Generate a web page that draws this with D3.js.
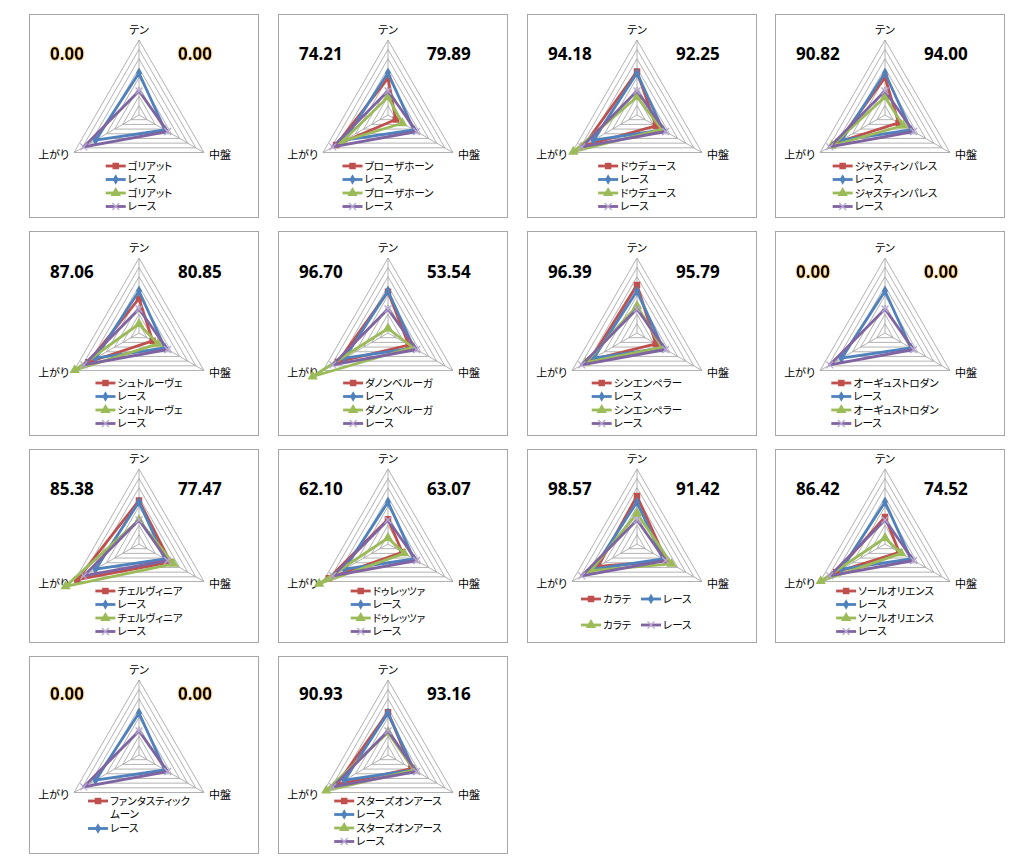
<!DOCTYPE html>
<html><head><meta charset="utf-8">
<script src="https://cdn.jsdelivr.net/npm/d3@7"></script>
<style>
body{margin:0;background:#fff;}
svg{display:block;}
.jp{font-family:"Noto Sans CJK JP","Noto Sans",sans-serif;font-feature-settings:"palt" 1;fill:#000;}
.num{font-family:"Open Sans","Liberation Sans",sans-serif;font-weight:700;font-size:17px;fill:#000;}
</style></head><body>
<svg id="c" width="1024" height="866"></svg>
<script>
// ---------------- data ----------------
const horses = ["ゴリアット","ブローザホーン","ドウデュース","ジャスティンパレス",
  "シュトルーヴェ","ダノンベルーガ","シンエンペラー","オーギュストロダン",
  "チェルヴィニア","ドゥレッツァ","カラテ","ソールオリエンス",
  "ファンタスティックムーン","スターズオンアース"];
const axesLabels = ["テン","中盤","上がり"];
const raceLabel = "レース";
// values as % of the outer ring, order: テン, 中盤, 上がり
const raceA = [56, 40, 67];   // blue レース
const raceB = [32, 44, 85];   // purple レース
const horseA = [ // red
  null,[49,12,80],[58,29,82],[50,21,72],
  [46,21,78],[55,32,77],[64,29,72],null,
  [58,48,95],[33,22,91],[64,45,60],[36,22,75],
  null,[57,36,79]];
const horseB = [ // green
  null,[24,22,70],[24,38,98],[24,28,82],
  [12,29,99],[6,38,116],[36,38,79],null,
  [32,53,113],[8,25,106],[41,53,71],[8,25,99],
  null,[30,40,95]];
const scoreLeft  = [0,74.21,94.18,90.82,87.06,96.70,96.39,0,85.38,62.10,98.57,86.42,0,90.93];
const scoreRight = [0,79.89,92.25,94.00,80.85,53.54,95.79,0,77.47,63.07,91.42,74.52,0,93.16];
const ringTicks = [12.5,25,37.5,50,62.5,75,87.5,100];
// legend style per panel
const legendMode = ["list","list","list","list","list","list","list","list","list","list","grid","list","wrap","list"];

// ---------------- layout ----------------
const colX=[29,278,527,775], rowY=[14,231,449,656], rowH=[203,204,193,197];
const apexRel=[26,27,20,24], legendRel=[152,152,142,145], numRel=[46,47,46,44];
const PW=229, R=75, CXR=110;

const svg = d3.select("#c");
const defs = svg.append("defs");
const f = defs.append("filter").attr("id","glow").attr("x","-20%").attr("y","-30%").attr("width","140%").attr("height","160%");
f.append("feGaussianBlur").attr("in","SourceAlpha").attr("stdDeviation",1.1).attr("result","b");
f.append("feFlood").attr("flood-color","#f0a000").attr("flood-opacity",0.9);
f.append("feComposite").attr("in2","b").attr("operator","in").attr("result","g");
const fm=f.append("feMerge"); fm.append("feMergeNode").attr("in","g"); fm.append("feMergeNode").attr("in","SourceGraphic");

const rScale = d3.scaleLinear().domain([0,100]).range([0,R]);
const ang = i => i*2*Math.PI/3;
const radial = d3.lineRadial().angle((d,i)=>ang(i)).radius(d=>rScale(d)).curve(d3.curveLinearClosed);
const symX = {draw(ctx,size){const r=Math.sqrt(size)/2;ctx.moveTo(-r,-r);ctx.lineTo(r,r);ctx.moveTo(-r,r);ctx.lineTo(r,-r);}};
const seriesStyle = [
  {color:"#C0504D", sym:d3.symbolSquare, size:42, fill:"#C0504D", stroke:"none"},
  {color:"#4F81BD", sym:d3.symbolDiamond, size:32, fill:"#4F81BD", stroke:"none"},
  {color:"#9BBB59", sym:d3.symbolTriangle, size:46, fill:"#9BBB59", stroke:"none"},
  {color:"#8064A2", sym:symX, size:48, fill:"none", stroke:"#b8a9d4"}
];
function marker(g,x,y,st){
  g.append("path").attr("transform",`translate(${x},${y})`)
   .attr("d",d3.symbol(st.sym,st.size)())
   .attr("fill",st.fill).attr("stroke",st.stroke).attr("stroke-width",1.3);
}

horses.forEach((name,i)=>{
  const col=i%4,row=Math.floor(i/4);
  const g=svg.append("g").attr("transform",`translate(${colX[col]},${rowY[row]})`);
  g.append("rect").attr("x",0.5).attr("y",0.5).attr("width",PW).attr("height",rowH[row])
    .attr("fill","#fff").attr("stroke","#a6a6a6");
  const cx=CXR, cy=apexRel[row]+R;
  const p=g.append("g").attr("transform",`translate(${cx},${cy})`);
  p.selectAll("path.ring").data(ringTicks).join("path").attr("class","ring")
    .attr("d",t=>radial([t,t,t])).attr("fill","none").attr("stroke","#a9a9a9").attr("stroke-width",0.9);
  p.selectAll("line.spoke").data([0,1,2]).join("line").attr("class","spoke")
    .attr("x1",0).attr("y1",0)
    .attr("x2",k=>d3.pointRadial(ang(k),R)[0]).attr("y2",k=>d3.pointRadial(ang(k),R)[1])
    .attr("stroke","#a9a9a9").attr("stroke-width",0.9);
  // axis labels
  const v0=d3.pointRadial(ang(0),R), v1=d3.pointRadial(ang(1),R), v2=d3.pointRadial(ang(2),R);
  p.append("text").attr("class","jp").attr("x",v0[0]).attr("y",v0[1]-6).attr("text-anchor","middle").attr("font-size",11).text(axesLabels[0]);
  p.append("text").attr("class","jp").attr("x",v1[0]+5).attr("y",v1[1]+6).attr("text-anchor","start").attr("font-size",11).text(axesLabels[1]);
  p.append("text").attr("class","jp").attr("x",v2[0]-5).attr("y",v2[1]+6).attr("text-anchor","end").attr("font-size",11).text(axesLabels[2]);
  // series
  const data=[horseA[i],raceA,horseB[i],raceB];
  data.forEach((vals,s)=>{
    if(!vals) return;
    const st=seriesStyle[s];
    p.append("path").attr("d",radial(vals)).attr("fill","none").attr("stroke",st.color)
      .attr("stroke-width",2.8).attr("stroke-linejoin","round");
    vals.forEach((v,k)=>{const q=d3.pointRadial(ang(k),rScale(v));marker(p,q[0],q[1],st);});
  });
  // scores
  const fmt=d3.format(".2f");
  const noData=!horseA[i];
  const tl=g.append("text").attr("class","num").attr("x",21).attr("y",numRel[row]).text(fmt(scoreLeft[i]));
  const tr=g.append("text").attr("class","num").attr("x",149).attr("y",numRel[row]).text(fmt(scoreRight[i]));
  if(noData){tl.attr("filter","url(#glow)");tr.attr("filter","url(#glow)");}
  // legend
  const labels=[name,raceLabel,name,raceLabel];
  const lg=g.append("g");
  const mode=legendMode[i];
  function entry(x,y,s,lines){
    const st=seriesStyle[s];
    lg.append("line").attr("x1",x).attr("x2",x+20).attr("y1",y).attr("y2",y).attr("stroke",st.color).attr("stroke-width",2.8);
    marker(lg,x+10,y,st);
    const t=lg.append("text").attr("class","jp").attr("font-size",10.5).attr("x",x+22).attr("y",y);
    lines.forEach((ln,j)=>t.append("tspan").attr("x",x+22).attr("dy",j?"13.5":"0.36em").text(ln));
    return t;
  }
  function measure(s){const t=lg.append("text").attr("class","jp").attr("font-size",10.5).text(s);const w=t.node().getComputedTextLength();t.remove();return w;}
  const ly=legendRel[row];
  if(mode==="list"){
    const w=22+d3.max(labels,measure);
    const x0=cx-w/2;
    labels.forEach((lb,s)=>entry(x0,ly+s*13.5,s,[lb]));
  } else if(mode==="grid"){
    const x1=cx-56, x2=cx+4;
    entry(x1,150,0,[labels[0]]); entry(x2,150,1,[labels[1]]);
    entry(x1,176,2,[labels[2]]); entry(x2,176,3,[labels[3]]);
  } else {
    const parts=[name.slice(0,9),name.slice(9)];
    const w=22+d3.max(parts,measure);
    const x0=cx-w/2;
    entry(x0,ly,0,parts);
    entry(x0,ly+27.5,1,[labels[1]]);
  }
});
</script>
</body></html>
